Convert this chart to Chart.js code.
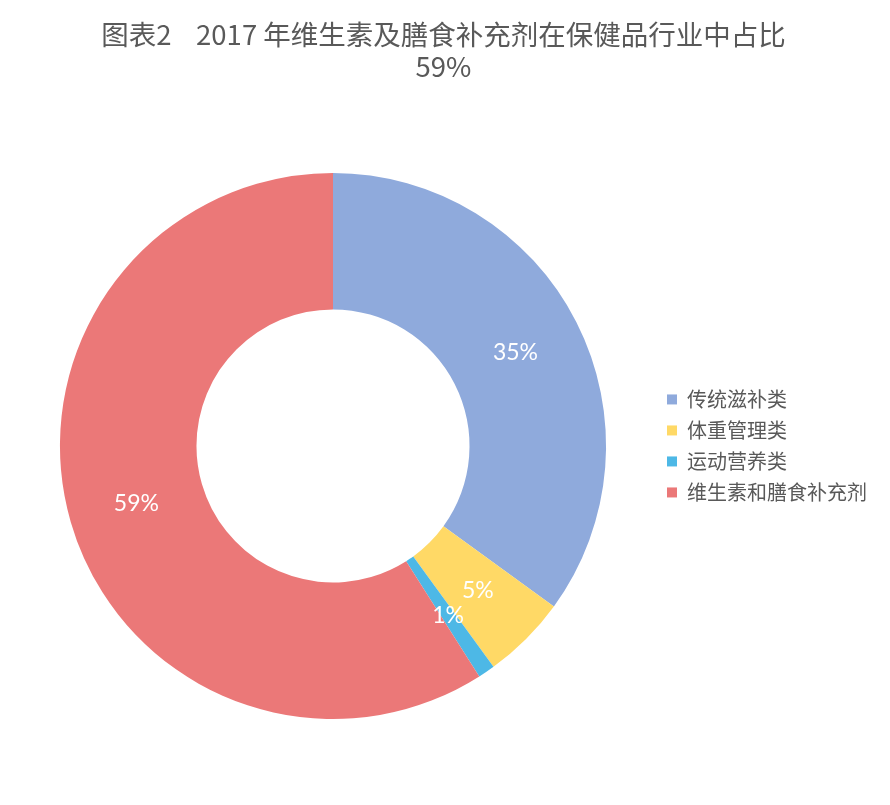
<!DOCTYPE html>
<html>
<head>
<meta charset="utf-8">
<script src="https://cdn.jsdelivr.net/npm/chart.js@4"></script>
<style>
  body { margin: 0; background: #fff; }
  #wrap { width: 890px; height: 805px; }
</style>
</head>
<body>
<div id="wrap"><canvas id="share-chart" width="890" height="805"></canvas></div>
<script>
// 2017 health product segments (%)
const categories = ['传统滋补类', '体重管理类', '运动营养类', '维生素和膳食补充剂'];
const shares = [35, 5, 1, 59];
const colors = ['#8FAADC', '#FFD966', '#4DB8E6', '#EB7878'];
const titleLines = ['图表2    2017 年维生素及膳食补充剂在保健品行业中占比', '59%'];

const cjk = "'Noto Sans CJK SC', 'Noto Sans', sans-serif";

// percent labels in the middle of each ring slice
const sliceLabels = {
    id: 'sliceLabels',
    afterDatasetsDraw(chart) {
        const c = chart.ctx;
        const meta = chart.getDatasetMeta(0);
        c.save();
        c.fillStyle = '#ffffff';
        c.font = '23px Lato, ' + cjk;
        c.textAlign = 'center';
        c.textBaseline = 'middle';
        meta.data.forEach((arc, i) => {
            const p = arc.tooltipPosition();
            c.fillText(shares[i] + '%', p.x, p.y);
        });
        c.restore();
    }
};

const ctx = document.getElementById('share-chart').getContext('2d');
new Chart(ctx, {
    type: 'doughnut',
    data: {
        labels: categories,
        datasets: [{
            data: shares,
            backgroundColor: colors,
            borderWidth: 0
        }]
    },
    options: {
        responsive: false,
        animation: false,
        devicePixelRatio: 1,
        cutout: '50%',
        layout: { padding: { left: 10, right: 13, top: 0, bottom: 86 } },
        plugins: {
            title: {
                display: true,
                text: titleLines,
                color: '#595959',
                font: { family: cjk, size: 27.5, weight: 'normal', lineHeight: 1.18 },
                padding: { top: 18, bottom: 90 }
            },
            legend: {
                position: 'right',
                fullSize: false,
                labels: {
                    boxWidth: 10,
                    boxHeight: 10,
                    padding: 11,
                    color: '#595959',
                    font: { family: cjk, size: 20 }
                }
            },
            tooltip: { enabled: false }
        }
    },
    plugins: [sliceLabels]
});
</script>
</body>
</html>
